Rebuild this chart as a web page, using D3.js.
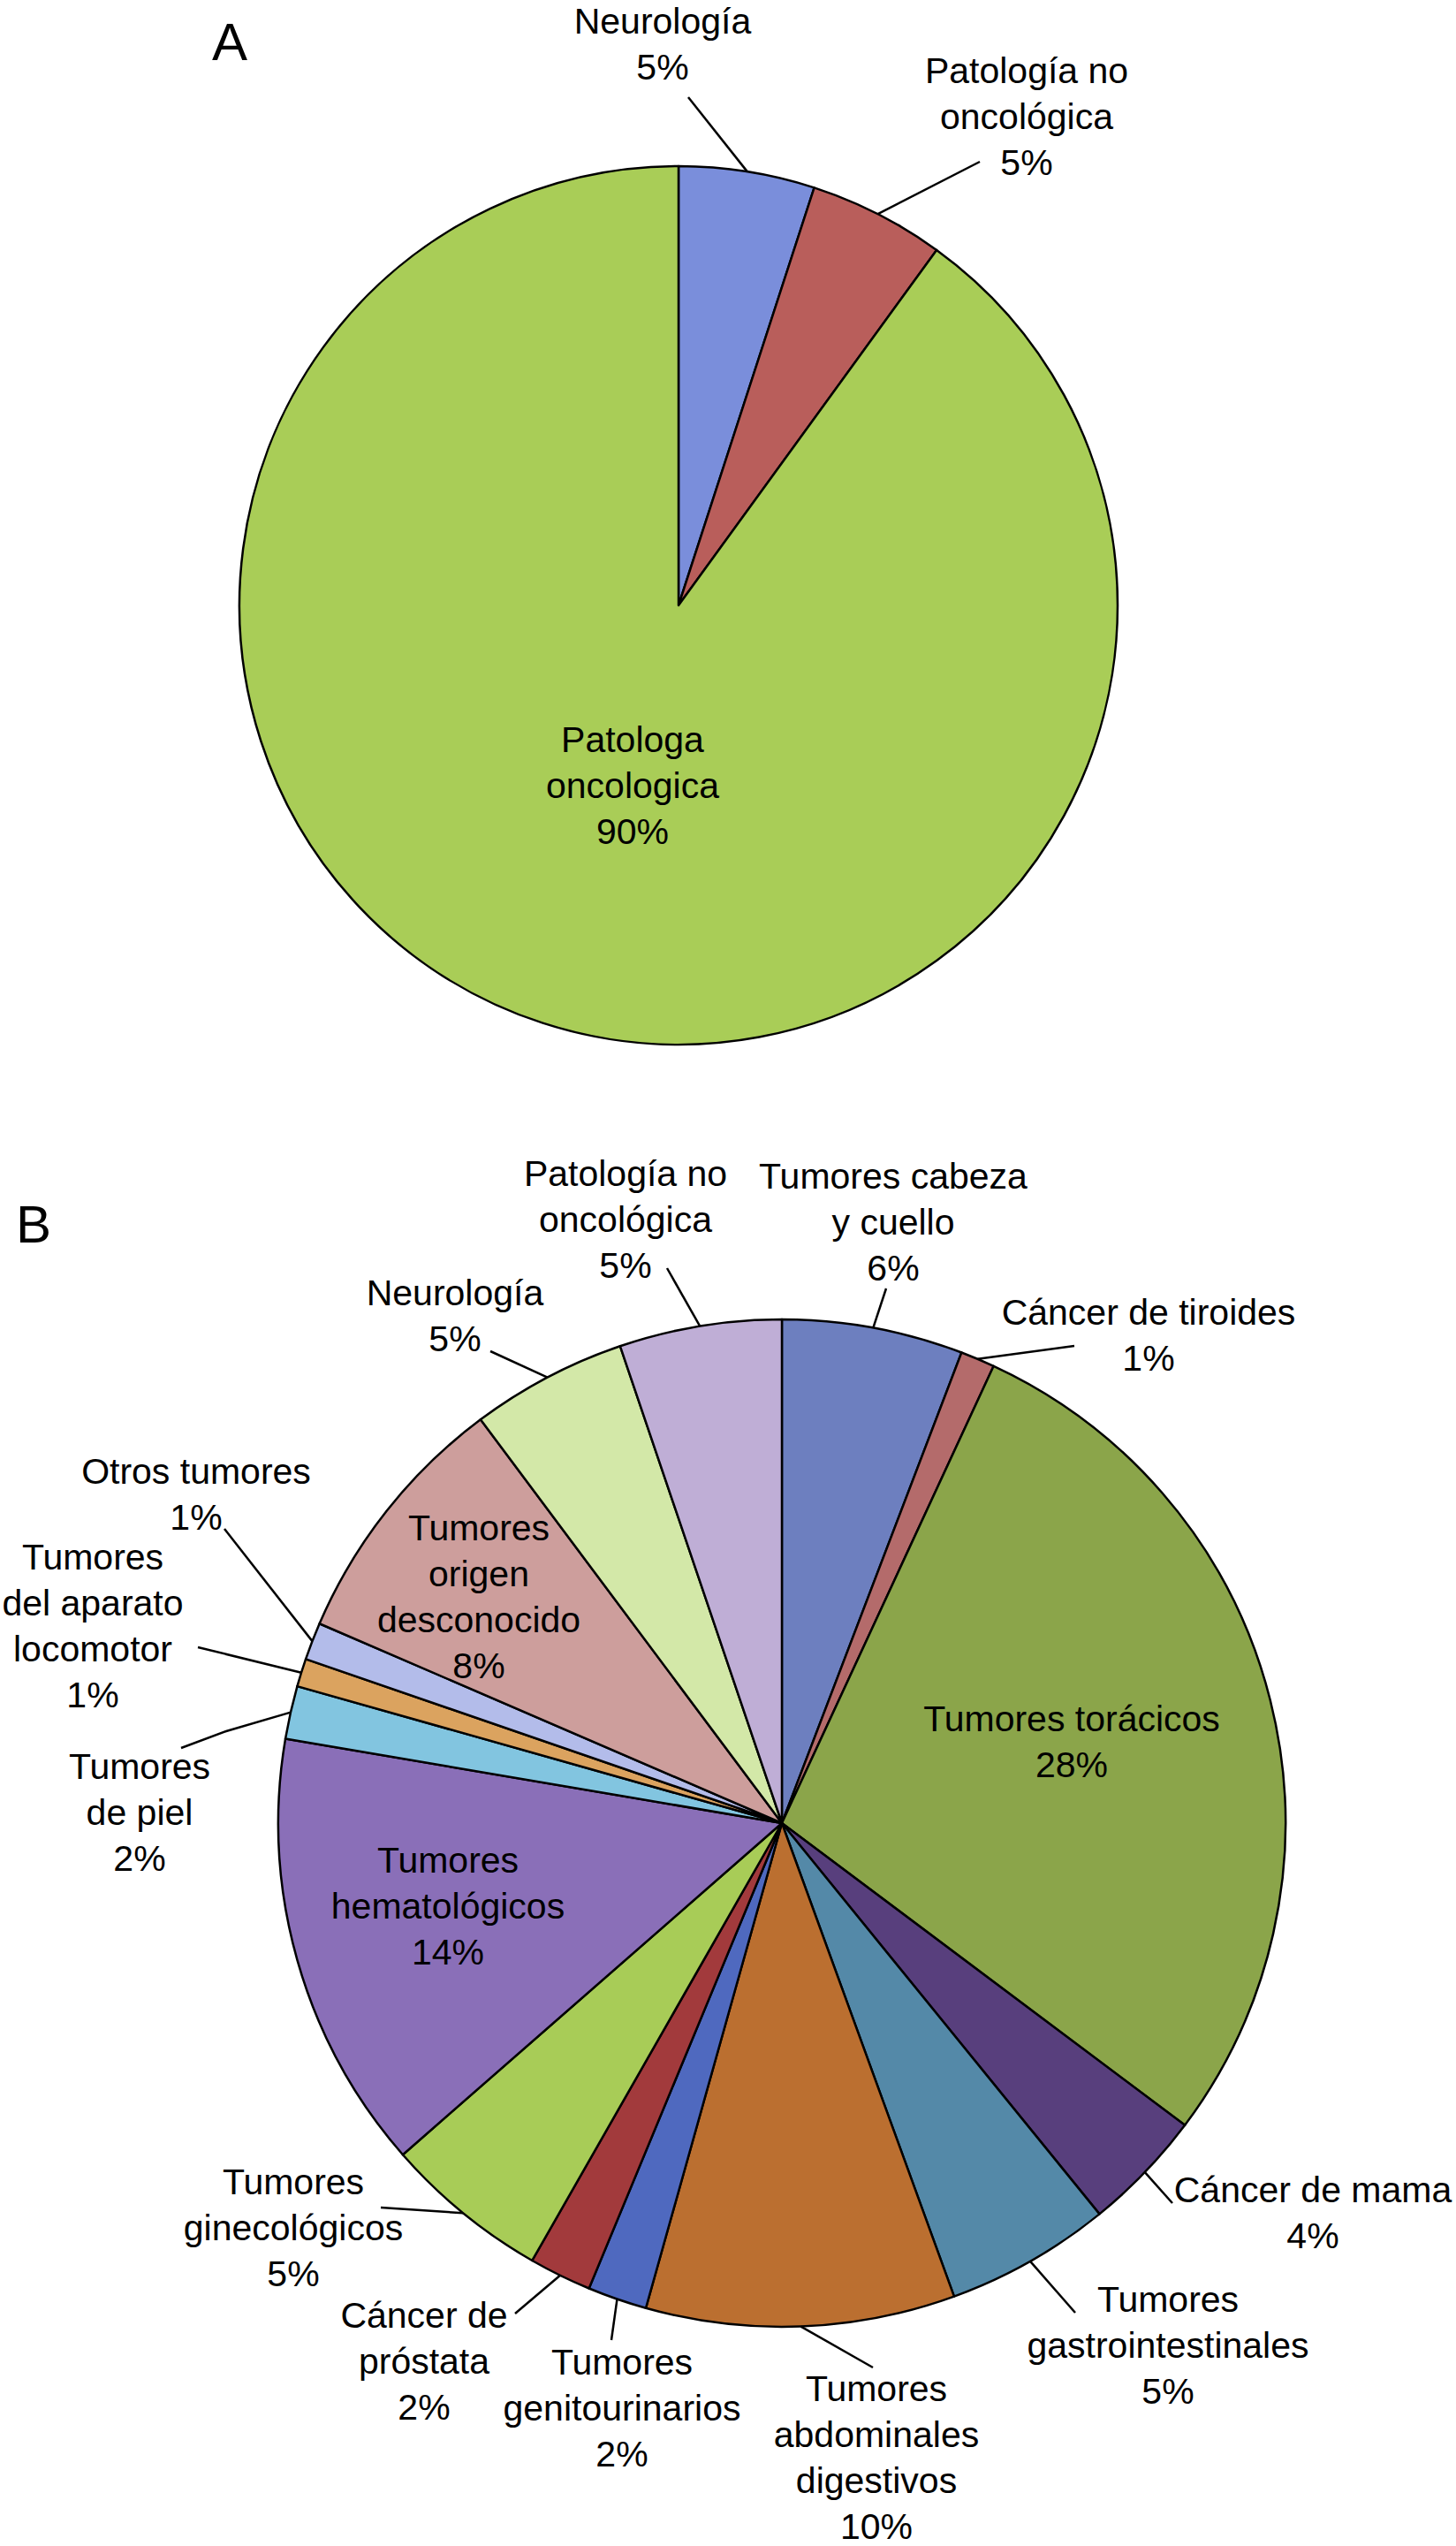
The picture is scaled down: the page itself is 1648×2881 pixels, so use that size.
<!DOCTYPE html>
<html>
<head>
<meta charset="utf-8">
<script src="https://cdn.jsdelivr.net/npm/d3@7"></script>
<style>
  body { margin: 0; background: #ffffff; }
  text { font-family: "Liberation Sans", Arial, Helvetica, sans-serif; fill: #000; }
</style>
</head>
<body>
<div id="chart"></div>
<script>
// chart A data
var namesA = ["Neurología", "Patología no oncológica", "Patologa oncologica"];
var linesA = [["Neurología"], ["Patología no", "oncológica"], ["Patologa", "oncologica"]];
var valuesA = [5, 5, 90];
var pctA = ["5%", "5%", "90%"];
var colorsA = ["#7a8edb", "#b95e5b", "#a9cd57"];

// chart B data
var namesB = ["Tumores cabeza y cuello", "Cáncer de tiroides", "Tumores torácicos", "Cáncer de mama",
    "Tumores gastrointestinales", "Tumores abdominales digestivos", "Tumores genitourinarios",
    "Cáncer de próstata", "Tumores ginecológicos", "Tumores hematológicos", "Tumores de piel",
    "Tumores del aparato locomotor", "Otros tumores", "Tumores origen desconocido",
    "Neurología", "Patología no oncológica"];
var linesB = [["Tumores cabeza", "y cuello"], ["Cáncer de tiroides"], ["Tumores torácicos"], ["Cáncer de mama"],
    ["Tumores", "gastrointestinales"], ["Tumores", "abdominales", "digestivos"], ["Tumores", "genitourinarios"],
    ["Cáncer de", "próstata"], ["Tumores", "ginecológicos"], ["Tumores", "hematológicos"], ["Tumores", "de piel"],
    ["Tumores", "del aparato", "locomotor"], ["Otros tumores"], ["Tumores", "origen", "desconocido"],
    ["Neurología"], ["Patología no", "oncológica"]];
var valuesB = [5.8, 1.1, 28.3, 3.9, 5.3, 9.9, 1.9, 2.0, 5.3, 14.1, 1.7, 0.9, 1.2, 8.3, 5.0, 5.2];
var pctB = ["6%", "1%", "28%", "4%", "5%", "10%", "2%", "2%", "5%", "14%", "2%", "1%", "1%", "8%", "5%", "5%"];
var colorsB = ["#6d7fbf", "#b46b6b", "#8ba54a", "#583f7d", "#5489a8", "#bb6f30", "#4f69bf", "#a23a3c",
    "#a8cc57", "#8a6fb8", "#82c5e0", "#dba35f", "#b3bcea", "#cd9e9c", "#d3e8a8", "#bfaed6"];

// layout: label centre (first line) and leader points near the label
var layoutA = {
    cx: 768, cy: 685, r: 497, letter: "A", lx: 260, ly: 68,
    labels: [[750, 24], [1162, 80], [716, 837]],
    leaders: [[[779, 110]], [[1109, 183]], null]
};
var layoutB = {
    cx: 885, cy: 2063, r: 570, letter: "B", lx: 38, ly: 1406,
    labels: [[1011, 1331], [1300, 1485], [1213, 1945], [1486, 2478], [1322, 2602], [992, 2703],
        [704, 2673], [480, 2620], [332, 2469], [507, 2105], [158, 1999], [105, 1762],
        [222, 1665], [542, 1729], [515, 1463], [708, 1328]],
    leaders: [[[1003, 1458]], [[1216, 1523]], null, [[1327, 2493]], [[1217, 2617]], [[988, 2679]],
        [[692, 2648]], [[583, 2618]], [[431, 2498]], null, [[205, 1978], [256, 1959]], [[224, 1864]],
        [[254, 1730]], null, [[555, 1529]], [[755, 1435]]]
};

var fontSize = 41, lineH = 52;

var svg = d3.select("#chart").append("svg")
    .attr("width", 1648)
    .attr("height", 2881);

function drawPie(names, lines, values, pct, colors, lay) {
    var data = names.map(function (n, i) {
        return {name: n, lines: lines[i], value: values[i], pct: pct[i], color: colors[i], i: i};
    });

    var pie = d3.pie().sort(null).value(function (d) { return d.value; });
    var arc = d3.arc().innerRadius(0).outerRadius(lay.r);
    var edge = d3.arc().innerRadius(lay.r).outerRadius(lay.r);
    var arcs = pie(data);

    var g = svg.append("g")
        .attr("transform", "translate(" + lay.cx + "," + lay.cy + ")");

    g.selectAll("path.slice")
        .data(arcs)
        .enter()
        .append("path")
        .attr("class", "slice")
        .attr("d", arc)
        .style("fill", function (d) { return d.data.color; })
        .style("stroke", "#000")
        .style("stroke-width", 2.5)
        .style("stroke-linejoin", "round");

    // leader lines from the slice edge to the label
    arcs.forEach(function (d) {
        var pts = lay.leaders[d.data.i];
        if (!pts) return;
        var c = edge.centroid(d);
        var all = [[c[0] + lay.cx, c[1] + lay.cy]].concat(pts.slice().reverse());
        svg.append("path")
            .attr("d", d3.line()(all))
            .style("fill", "none")
            .style("stroke", "#000")
            .style("stroke-width", 2.5);
    });

    // labels
    arcs.forEach(function (d) {
        var p = lay.labels[d.data.i];
        var txt = d.data.lines.concat([d.data.pct]);
        var t = svg.append("text")
            .attr("text-anchor", "middle")
            .style("font-size", fontSize + "px");
        txt.forEach(function (s, k) {
            t.append("tspan")
                .attr("x", p[0])
                .attr("y", p[1] + k * lineH)
                .attr("dy", "0.35em")
                .text(s);
        });
    });

    svg.append("text")
        .attr("x", lay.lx)
        .attr("y", lay.ly)
        .attr("text-anchor", "middle")
        .style("font-size", "60px")
        .text(lay.letter);
}

drawPie(namesA, linesA, valuesA, pctA, colorsA, layoutA);
drawPie(namesB, linesB, valuesB, pctB, colorsB, layoutB);
</script>
</body>
</html>
